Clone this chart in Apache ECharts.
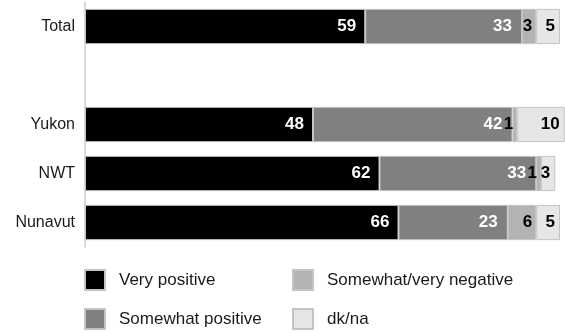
<!DOCTYPE html>
<html>
<head>
<meta charset="utf-8">
<script src="https://cdn.jsdelivr.net/npm/echarts@6/dist/echarts.min.js"></script>
<style>
  html, body { margin: 0; padding: 0; background: #fff; }
  #chart { width: 565px; height: 333px; }
</style>
</head>
<body>
<div id="chart"></div>
<script>
// Regions (blank row separates the total from the territories)
const categories = ['Total', '', 'Yukon', 'NWT', 'Nunavut'];

// Shares in percent, one array per response
const veryPositive     = [59, null, 48, 62, 66];
const somewhatPositive = [33, null, 42, 33, 23];
const negative         = [3,  null, 1,  1,  6];
const dkna             = [5,  null, 10, 3,  5];

const seriesNames = ['Very positive', 'Somewhat positive', 'Somewhat/very negative', 'dk/na'];
const seriesData = [veryPositive, somewhatPositive, negative, dkna];
const fillColors = ['#000000', '#808080', '#b3b3b3', '#e6e6e6'];
const labelColors = ['#ffffff', '#ffffff', '#000000', '#000000'];
const labelDistance = [9, 10, 4, 5];

const FONT = '"Liberation Sans", Arial, sans-serif';

const chart = echarts.init(document.getElementById('chart'), null, { renderer: 'canvas' });

const series = seriesNames.map((name, i) => ({
  name: name,
  type: 'bar',
  stack: 'total',
  data: seriesData[i],
  barCategoryGap: '28%',
  clip: false,
  itemStyle: { color: fillColors[i], borderColor: '#c4c4c4', borderWidth: 1 },
  label: {
    show: true,
    position: 'insideRight',
    distance: labelDistance[i],
    color: labelColors[i],
    fontFamily: FONT,
    fontWeight: 'bold',
    fontSize: 17
  },
  emphasis: { disabled: true }
}));

// one legend block per entry, laid out in two columns
const legendSpots = [
  { name: 'Very positive', left: 84, top: 269 },
  { name: 'Somewhat positive', left: 84, top: 308 },
  { name: 'Somewhat/very negative', left: 292, top: 269 },
  { name: 'dk/na', left: 292, top: 308 }
];
const legends = legendSpots.map(s => ({
  left: s.left,
  top: s.top,
  padding: 0,
  data: [s.name],
  itemWidth: 20,
  itemHeight: 20,
  icon: 'rect',
  selectedMode: false,
  textStyle: { fontFamily: FONT, fontSize: 17, color: '#1a1a1a', padding: [0, 0, 0, 9] }
}));

chart.setOption({
  animation: false,
  backgroundColor: '#ffffff',
  grid: { left: 85, right: 5, top: 2, bottom: 86 },
  xAxis: {
    type: 'value',
    min: 0,
    max: 100,
    show: false
  },
  yAxis: {
    type: 'category',
    data: categories,
    inverse: true,
    axisLine: { show: true, lineStyle: { color: '#cccccc', width: 1.5 } },
    axisTick: { show: false },
    axisLabel: { fontFamily: FONT, fontSize: 16, color: '#1a1a1a', margin: 10 }
  },
  legend: legends,
  series: series
});
</script>
</body>
</html>
